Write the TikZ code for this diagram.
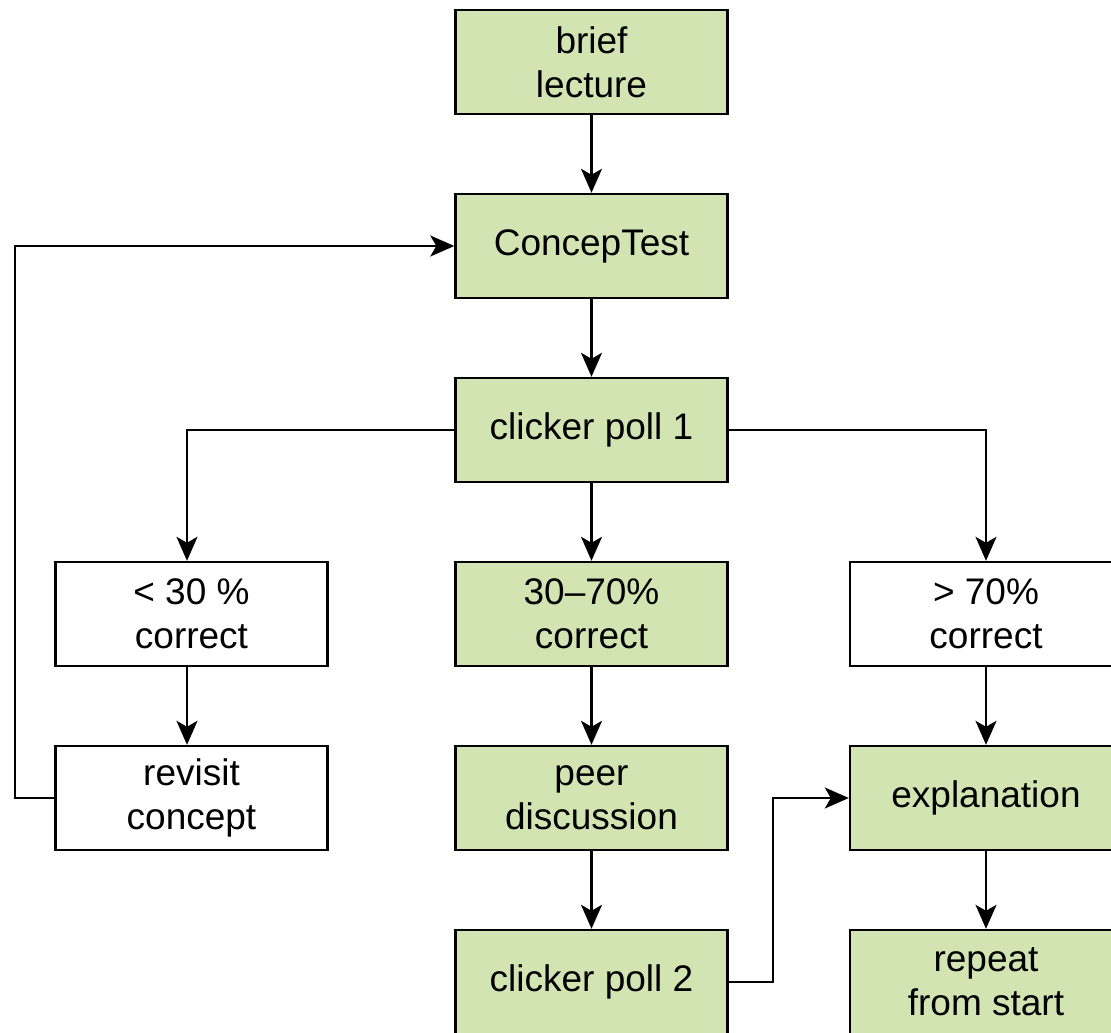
\documentclass[tikz,border=0pt]{standalone}
\usepackage{fontspec}
\setmainfont{Liberation Sans}
\usetikzlibrary{arrows.meta}
\definecolor{boxgreen}{HTML}{D1E4B2}
\begin{document}
\begin{tikzpicture}[x=1pt,y=-1pt,
  every node/.style={font=\fontsize{37}{44}\selectfont},
  box/.style={draw=black,line width=2.4pt,minimum width=272pt,minimum height=104pt,align=center,inner sep=0pt},
  gbox/.style={box,fill=boxgreen},
  wbox/.style={box,fill=white},
  conn/.style={line width=2.2pt,-{Stealth[length=24pt,width=21pt,inset=6pt]}}]
\useasboundingbox (0,0) rectangle (1111,1033);
\clip (0,0) rectangle (1111,1033);
\node[gbox] (lec) at (591.5,62) {brief\\lecture};
\node[gbox] (ct) at (591.5,246) {ConcepTest};
\node[gbox] (p1) at (591.5,430) {clicker poll 1};
\node[wbox] (lo) at (191.5,614) {< 30 \%\\correct};
\node[gbox] (mid) at (591.5,614) {30–70\%\\correct};
\node[wbox] (hi) at (986,614) {> 70\%\\correct};
\node[wbox] (rev) at (191.5,798) {revisit\\concept};
\node[gbox] (peer) at (591.5,798) {peer\\discussion};
\node[gbox] (expl) at (986,798) {explanation};
\node[gbox] (p2) at (591.5,982) {clicker poll 2};
\node[gbox] (rep) at (986,982) {repeat\\from start};
\coordinate (lx) at (187,0);
\draw[conn] (lec) -- (ct);
\draw[conn] (ct) -- (p1);
\draw[conn] (p1) -- (mid);
\draw[conn] (p1.west) -| (lx |- lo.north);
\draw[conn] (lo.south -| lx) -- (rev.north -| lx);
\draw[conn] (p1.east) -| (hi.north);
\draw[conn] (hi) -- (expl);
\draw[conn] (expl) -- (rep);
\draw[conn] (mid) -- (peer);
\draw[conn] (peer) -- (p2);
\coordinate (loopx) at (15,0);
\draw[conn] (rev.west) -- (loopx |- rev.west) -- (loopx |- ct.west) -- (ct.west);
\coordinate (midx) at (773,0);
\draw[conn] (p2.east) -- (midx |- p2.east) -- (midx |- expl.west) -- (expl.west);
\end{tikzpicture}
\end{document}
